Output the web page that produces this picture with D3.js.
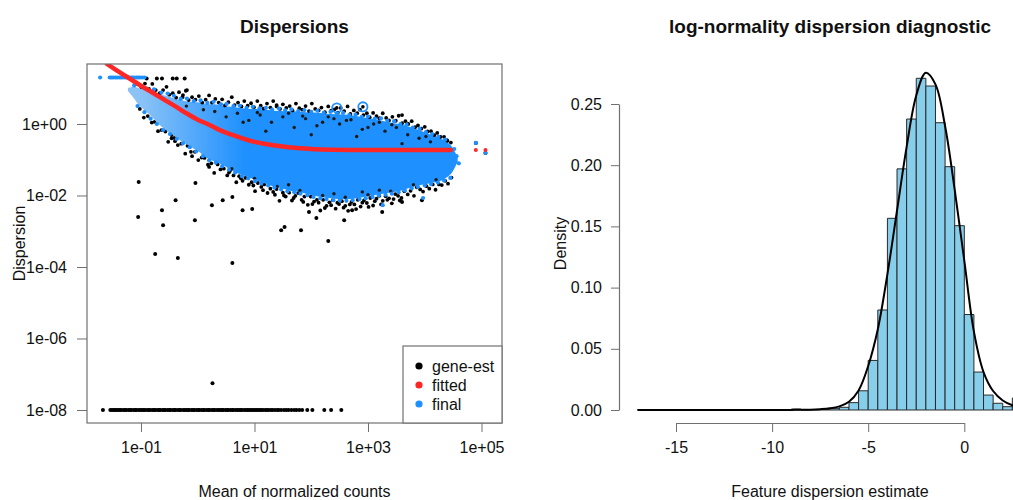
<!DOCTYPE html>
<html>
<head>
<meta charset="utf-8">
<script src="https://cdn.jsdelivr.net/npm/d3@7"></script>
<style>
  body { margin: 0; background: #fff; }
  svg { display: block; font-family: "Liberation Sans", Arial, sans-serif; }
</style>
</head>
<body>
<svg id="chart" width="1013" height="500"></svg>
<script>
// ---------------- Dispersion estimates (values are log10 mean, log10 dispersion) ----------------
const meanTicks = [1e-1, 1e1, 1e3, 1e5];
const meanTickLabels = ["1e-01", "1e+01", "1e+03", "1e+05"];
const dispTicks = [1e0, 1e-2, 1e-4, 1e-6, 1e-8];
const dispTickLabels = ["1e+00", "1e-02", "1e-04", "1e-06", "1e-08"];
const legendLabels = ["gene-est", "fitted", "final"];

// dense body of final (shrunken) estimates: log10 mean with upper / lower log10 dispersion
const coreLogMean  = [-1.23,-1.14,-1.02,-0.84,-0.72,-0.58,-0.44,-0.32,-0.14,0.04,0.16,0.3,0.44,0.6,0.74,0.91,1.04,1.18,1.32,1.47,1.61,1.79,1.91,2.05,2.19,2.35,2.49,2.67,2.79,2.93,3.07,3.23,3.37,3.54,3.67,3.81,3.95,4.11,4.25,4.33,4.46,4.53,4.58];
const coreLogUpper = [1.0,1.04,1.0,0.93,0.86,0.8,0.73,0.68,0.62,0.6,0.56,0.55,0.5,0.48,0.45,0.42,0.42,0.4,0.38,0.36,0.36,0.34,0.33,0.32,0.3,0.28,0.27,0.25,0.22,0.18,0.15,0.1,0.05,0.0,-0.05,-0.12,-0.2,-0.3,-0.38,-0.45,-0.6,-0.78,-0.95];
const coreLogLower = [0.92,0.75,0.5,0.25,0.05,-0.15,-0.3,-0.45,-0.62,-0.8,-0.95,-1.05,-1.15,-1.3,-1.4,-1.5,-1.58,-1.66,-1.74,-1.8,-1.86,-1.9,-1.95,-2.0,-2.05,-2.08,-2.1,-2.1,-2.08,-2.04,-2.0,-1.96,-1.92,-1.88,-1.82,-1.75,-1.7,-1.65,-1.6,-1.55,-1.4,-1.22,-1.05];

// gene-wise estimates along the top of the body
const geneEstUpper = [[-1.06,1.12],[-0.99,1.03],[-0.93,1.13],[-0.86,0.98],[-0.8,1.12],[-0.74,0.95],[-0.67,0.86],[-0.61,0.95],[-0.55,1.04],[-0.5,0.82],[-0.44,0.86],[-0.38,0.74],[-0.33,0.89],[-0.27,0.75],[-0.21,0.93],[-0.16,0.67],[-0.1,0.75],[-0.04,0.68],[0.02,0.78],[0.08,0.6],[0.14,0.68],[0.2,0.8],[0.25,0.6],[0.31,0.7],[0.37,0.6],[0.43,0.69],[0.48,0.52],[0.54,0.61],[0.6,0.75],[0.65,0.53],[0.71,0.6],[0.77,0.49],[0.82,0.64],[0.88,0.51],[0.94,0.58],[0.99,0.47],[1.05,0.64],[1.11,0.51],[1.16,0.43],[1.22,0.57],[1.28,0.46],[1.33,0.64],[1.39,0.49],[1.45,0.42],[1.5,0.55],[1.56,0.45],[1.62,0.5],[1.67,0.38],[1.73,0.57],[1.79,0.44],[1.84,0.4],[1.9,0.5],[1.96,0.36],[2.01,0.57],[2.07,0.42],[2.13,0.38],[2.18,0.46],[2.24,0.33],[2.3,0.49],[2.35,0.37],[2.41,0.41],[2.47,0.32],[2.52,0.45],[2.58,0.36],[2.64,0.49],[2.69,0.28],[2.75,0.38],[2.81,0.3],[2.86,0.4],[2.92,0.25],[2.98,0.3],[3.03,0.19],[3.09,0.31],[3.15,0.22],[3.2,0.16],[3.26,0.3],[3.32,0.17],[3.37,0.1],[3.43,0.2],[3.49,0.09],[3.54,0.23],[3.6,0.02],[3.66,0.08],[3.71,0.0],[3.77,0.08],[3.83,-0.09],[3.88,-0.04],[3.94,-0.13],[4.0,-0.08],[4.05,-0.21],[4.11,-0.2],[4.17,-0.31],[4.22,-0.25],[4.28,-0.36],[4.34,-0.36],[4.4,-0.47],[4.46,-0.52],[-0.26,0.81],[-0.19,0.95],[1.39,0.53],[3.6,0.25],[4.39,-0.45]];

// gene-wise estimates along the bottom of the body
const geneEstLower = [[-1.02,0.42],[-0.95,0.18],[-0.88,0.22],[-0.81,0.04],[-0.76,0.06],[-0.7,-0.2],[-0.64,-0.17],[-0.57,-0.21],[-0.52,-0.5],[-0.46,-0.4],[-0.41,-0.39],[-0.35,-0.59],[-0.29,-0.55],[-0.22,-0.83],[-0.18,-0.61],[-0.12,-0.78],[-0.05,-0.78],[0.01,-1.01],[0.07,-0.94],[0.12,-0.95],[0.18,-1.14],[0.24,-1.1],[0.29,-1.37],[0.35,-1.13],[0.4,-1.27],[0.46,-1.25],[0.52,-1.44],[0.57,-1.31],[0.63,-1.44],[0.68,-1.63],[0.73,-1.46],[0.79,-1.59],[0.84,-1.51],[0.9,-1.7],[0.95,-1.63],[1.01,-1.88],[1.06,-1.65],[1.12,-1.76],[1.17,-1.69],[1.23,-1.93],[1.28,-1.81],[1.33,-1.9],[1.39,-1.82],[1.44,-2.15],[1.5,-1.92],[1.55,-2.03],[1.61,-1.92],[1.66,-2.14],[1.72,-2.01],[1.77,-1.93],[1.83,-2.12],[1.88,-2.03],[1.94,-2.26],[1.99,-2.03],[2.05,-2.17],[2.1,-2.12],[2.16,-2.42],[2.21,-2.12],[2.27,-2.29],[2.32,-2.19],[2.38,-2.13],[2.43,-2.37],[2.49,-2.24],[2.54,-2.16],[2.6,-2.29],[2.65,-2.43],[2.71,-2.18],[2.76,-2.25],[2.82,-2.12],[2.87,-2.31],[2.93,-2.14],[2.98,-2.21],[3.04,-2.07],[3.09,-2.28],[3.15,-2.09],[3.2,-2.01],[3.26,-2.15],[3.31,-2.02],[3.37,-2.08],[3.42,-2.22],[3.48,-1.96],[3.53,-2.01],[3.59,-2.07],[3.64,-1.88],[3.7,-1.97],[3.75,-1.87],[3.81,-2.01],[3.86,-1.77],[3.92,-1.83],[3.97,-1.89],[4.03,-1.74],[4.08,-1.81],[4.14,-1.69],[4.19,-1.84],[4.25,-1.69],[4.3,-1.71],[4.36,-1.59],[4.41,-1.67],[4.47,-1.5],[1.36,-1.98],[1.52,-2.0],[1.69,-2.07],[1.86,-2.18],[2.02,-2.24],[2.13,-2.2],[2.24,-2.35],[2.35,-2.27],[2.46,-2.2],[2.57,-2.34],[2.68,-2.25],[2.79,-2.38],[2.9,-2.2],[3.01,-2.32],[3.12,-2.16],[3.23,-2.25],[3.34,-2.12],[3.45,-2.1],[3.56,-2.14],[0.55,-1.36],[0.76,-1.52],[0.98,-1.72],[1.15,-1.85],[-0.1,-0.9],[0.2,-1.2],[-0.4,-0.48]];

// isolated low gene-wise estimates
const geneEstStray = [[-1.04,-1.62],[-1.05,-2.6],[-0.63,-2.41],[-0.61,-2.83],[-0.39,-2.13],[-0.04,-1.65],[-0.05,-2.69],[0.25,-2.27],[0.44,-2.13],[0.61,-2.04],[0.79,-2.41],[0.96,-2.38],[1.47,-2.97],[1.53,-2.88],[1.82,-2.97],[2.09,-2.63],[2.58,-2.69],[1.96,-2.46],[2.72,-2.41],[3.25,-2.46],[3.6,-2.18],[3.95,-2.13],[-0.75,-3.64],[-0.35,-3.75],[0.61,-3.89],[2.3,-3.27],[0.26,-7.25],[-0.46,-0.31],[4.9,-0.53],[5.07,-0.81]];

// gene-wise estimates seen through the body
const geneEstInner = [[0.5,0.2],[0.7,0.3],[0.9,0.1],[1.1,0.25],[1.3,0.05],[1.5,0.2],[1.7,-0.1],[1.9,0.15],[2.1,-0.05],[2.3,0.2],[2.5,0.0],[2.7,0.12],[2.9,-0.15],[3.1,0.0],[3.3,-0.2],[3.5,-0.1],[3.7,-0.3],[3.9,-0.4],[4.1,-0.5],[1.2,-0.2],[2.0,-0.3],[2.8,-0.35],[3.6,-0.55],[0.3,0.35],[-0.2,0.5],[-0.5,0.6],[0.1,0.4],[1.6,0.3],[2.4,0.15],[3.2,0.05],[0.6,-1.25],[1.0,-1.52],[1.4,-1.75],[1.8,-1.86],[2.2,-2.0],[2.6,-2.05],[3.0,-1.98],[3.4,-1.88],[3.8,-1.7],[4.2,-1.56],[2.4,-1.95],[3.2,-1.85],[1.6,-1.7],[2.9,-1.9],[1.05,0.32],[1.85,0.22],[2.62,0.1],[3.42,-0.02],[4.02,-0.35],[0.8,0.05],[2.2,0.05],[3.0,-0.1]];

// genes with all-zero counts sit on the lower dispersion bound
const zeroLogMean = [-1.67,-1.54,-1.51,-1.48,-1.46,-1.43,-1.4,-1.37,-1.35,-1.31,-1.28,-1.26,-1.22,-1.19,-1.17,-1.13,-1.1,-1.08,-1.04,-1.01,-0.98,-0.95,-0.93,-0.89,-0.86,-0.84,-0.8,-0.77,-0.75,-0.71,-0.68,-0.66,-0.62,-0.59,-0.57,-0.53,-0.5,-0.48,-0.44,-0.41,-0.39,-0.35,-0.32,-0.3,-0.26,-0.23,-0.2,-0.17,-0.15,-0.11,-0.08,-0.06,-0.02,0.01,0.03,0.07,0.1,0.12,0.16,0.19,0.21,0.25,0.28,0.3,0.34,0.37,0.4,0.43,0.45,0.49,0.52,0.54,0.58,0.61,0.63,0.67,0.7,0.73,0.76,0.78,0.82,0.85,0.88,0.91,0.94,0.97,1.0,1.03,1.06,1.09,1.12,1.15,1.19,1.22,1.25,1.29,1.32,1.36,1.4,1.43,1.47,1.52,1.56,1.6,1.65,1.7,1.74,1.79,1.84,1.93,2.02,2.23,2.35,2.53];
const zeroLogDisp = -8;

// genes at the upper dispersion bound
const capLogDisp = 1.3;
const capFinalLogMean = [-1.72,-1.55,-1.52,-1.49,-1.45,-1.42,-1.38,-1.35,-1.32,-1.28,-1.25,-1.22,-1.18,-1.15,-1.12,-1.08,-1.05,-1.02,-0.98,-0.94];
const capGeneEstLogMean = [-0.9,-0.72,-0.63,-0.44,-0.37,-0.23];

// final estimates at the edges of the body
const finalFringe = [[-1.12,1.08],[-1.0,1.06],[-0.9,0.99],[-0.77,0.97],[-0.64,0.88],[-0.53,0.85],[-0.42,0.79],[-0.3,0.7],[-0.19,0.71],[-0.07,0.64],[0.05,0.66],[0.17,0.59],[0.28,0.62],[0.41,0.55],[0.51,0.56],[0.63,0.5],[0.74,0.51],[0.86,0.45],[0.97,0.48],[1.09,0.44],[1.2,0.45],[1.31,0.4],[1.43,0.43],[1.54,0.38],[1.65,0.41],[1.77,0.36],[1.88,0.39],[2.0,0.34],[2.11,0.37],[2.22,0.31],[2.34,0.34],[2.45,0.29],[2.56,0.31],[2.67,0.25],[2.78,0.26],[2.89,0.2],[3.0,0.21],[3.12,0.15],[3.23,0.16],[3.34,0.09],[3.46,0.08],[3.57,0.0],[3.68,-0.02],[3.79,-0.1],[3.91,-0.13],[4.02,-0.23],[4.13,-0.28],[4.24,-0.36],[4.36,-0.44],[-1.06,0.5],[-0.94,0.33],[-0.83,0.15],[-0.72,0.0],[-0.61,-0.17],[-0.49,-0.28],[-0.37,-0.42],[-0.26,-0.54],[-0.14,-0.65],[-0.03,-0.77],[0.09,-0.9],[0.2,-1.02],[0.32,-1.08],[0.43,-1.18],[0.55,-1.28],[0.66,-1.36],[0.78,-1.46],[0.89,-1.52],[1.01,-1.6],[1.12,-1.66],[1.24,-1.72],[1.35,-1.78],[1.47,-1.83],[1.58,-1.88],[1.7,-1.91],[1.81,-1.95],[1.93,-1.99],[2.04,-2.04],[2.16,-2.08],[2.27,-2.1],[2.39,-2.13],[2.5,-2.14],[2.62,-2.15],[2.73,-2.13],[2.85,-2.1],[2.96,-2.08],[3.08,-2.04],[3.19,-2.0],[3.31,-1.98],[3.42,-1.95],[3.54,-1.91],[3.65,-1.86],[3.77,-1.8],[3.88,-1.76],[4.0,-1.72],[4.11,-1.68],[4.23,-1.64],[4.34,-1.58],[4.45,-1.51],[4.32,-1.2],[3.97,-2.07],[3.26,-2.27],[4.9,-0.53],[5.07,-0.81],[4.56,-0.9],[4.6,-1.1],[4.52,-0.7]];

// fitted trend
const fittedLogMean = [-1.6,-1.4,-1.2,-1.0,-0.8,-0.6,-0.4,-0.2,0.0,0.2,0.4,0.6,0.8,1.0,1.2,1.4,1.6,1.8,2.0,2.4,3.0,4.0,4.46];
const fittedLogDisp = [1.68,1.47,1.27,1.07,0.88,0.69,0.5,0.3,0.12,-0.02,-0.18,-0.3,-0.41,-0.5,-0.56,-0.61,-0.65,-0.68,-0.7,-0.72,-0.73,-0.73,-0.73];
const fittedIsolated = [[4.9,-0.73],[5.07,-0.73]];

// dispersion outliers (circled)
const outlierPoints = [[2.45,0.45],[2.91,0.48]];

// ---------------- Log-normality histogram ----------------
const histBreaks = [-17,-16.5,-16,-15.5,-15,-14.5,-14,-13.5,-13,-12.5,-12,-11.5,-11,-10.5,-10,-9.5,-9,-8.5,-8,-7.5,-7,-6.5,-6,-5.5,-5,-4.5,-4,-3.5,-3,-2.5,-2,-1.5,-1,-0.5,0,0.5,1,1.5,2,2.5,3];
const histDensity = [0.0003,0,0,0,0,0,0,0,0,0,0,0,0,0,0,0,0.0008,0,0.0003,0.0005,0.0011,0.0022,0.006,0.0157,0.0405,0.0817,0.1566,0.197,0.2377,0.271,0.2647,0.2347,0.1988,0.1506,0.078,0.031,0.0122,0.0055,0.0027,0.0098];
const curveX = [-17,-12,-9,-8,-7.5,-7,-6.5,-6,-5.5,-5,-4.5,-4,-3.5,-3,-2.5,-2,-1.5,-1,-0.5,0,0.5,1,1.5,2,2.5,3];
const curveDensity = [0,0,0.0001,0.0003,0.0007,0.0014,0.003,0.0068,0.016,0.036,0.066,0.111,0.163,0.215,0.257,0.2755,0.266,0.232,0.18,0.122,0.064,0.031,0.0155,0.0078,0.0039,0.002];
const histXTicks = [-15, -10, -5, 0];
const histYTicks = [0, 0.05, 0.10, 0.15, 0.20, 0.25];

// ---------------- drawing ----------------
const svg = d3.select("#chart");
const AXIS = "#707070", TEXT = "#111";
const BLACK = "#000", RED = "#ff2626", BLUE = "#1e90ff";

const box = { left: 87, right: 502, top: 64, bottom: 423 };
const x = d3.scaleLog().domain([Math.pow(10, -1.951), Math.pow(10, 5.361)]).range([box.left, box.right]);
const y = d3.scaleLog().domain([Math.pow(10, -8.364), Math.pow(10, 1.678)]).range([box.bottom, box.top]);
const px = lm => x(Math.pow(10, lm));
const py = ld => y(Math.pow(10, ld));

const defs = svg.append("defs");
defs.append("clipPath").attr("id", "plotClip").append("rect")
  .attr("x", box.left).attr("y", box.top)
  .attr("width", box.right - box.left).attr("height", box.bottom - box.top);
const grad = defs.append("linearGradient").attr("id", "coreFill")
  .attr("gradientUnits", "userSpaceOnUse").attr("x1", 140).attr("x2", 245).attr("y1", 0).attr("y2", 0);
grad.append("stop").attr("offset", 0).attr("stop-color", "#8cc3f6");
grad.append("stop").attr("offset", 1).attr("stop-color", BLUE);

const plot = svg.append("g").attr("clip-path", "url(#plotClip)");

function dots(pts, r, fill) {
  plot.append("g").selectAll("circle").data(pts).join("circle")
    .attr("cx", d => px(d[0])).attr("cy", d => py(d[1]))
    .attr("r", r).attr("fill", fill);
}

// gene-wise estimates (black) beneath the final ones
dots(geneEstLower, 1.9, BLACK);
dots(geneEstStray, 2, BLACK);
dots(zeroLogMean.map(m => [m, zeroLogDisp]), 2, BLACK);
dots(capGeneEstLogMean.map(m => [m, capLogDisp - 0.03]), 2, BLACK);

// final estimates (blue body + individual points)
const core = coreLogMean.map((m, i) => ({ m, hi: coreLogUpper[i], lo: coreLogLower[i] }));
plot.append("path").datum(core)
  .attr("fill", "url(#coreFill)")
  .attr("d", d3.area().x(d => px(d.m)).y0(d => py(d.lo)).y1(d => py(d.hi)).curve(d3.curveCatmullRom));
dots(geneEstUpper, 1.9, BLACK);
dots(geneEstInner, 1.7, "#1a1a1a");
dots(finalFringe, 2.1, BLUE);
dots(capFinalLogMean.map(m => [m, capLogDisp]), 2.1, BLUE);

// fitted trend (red)
plot.append("path")
  .datum(fittedLogMean.map((m, i) => [m, fittedLogDisp[i]]))
  .attr("fill", "none").attr("stroke", RED).attr("stroke-width", 4.5)
  .attr("stroke-linecap", "round")
  .attr("d", d3.line().x(d => px(d[0])).y(d => py(d[1])).curve(d3.curveMonotoneX));
dots(fittedIsolated, 2, RED);

// circled outliers
plot.append("g").selectAll("circle").data(outlierPoints).join("circle")
  .attr("cx", d => px(d[0])).attr("cy", d => py(d[1])).attr("r", 4.6)
  .attr("fill", "none").attr("stroke", BLUE).attr("stroke-width", 1.8);
dots(outlierPoints, 1.8, BLACK);

// axes of the dispersion panel
const xAxis = svg.append("g").attr("transform", `translate(0,${box.bottom})`)
  .call(d3.axisBottom(x).tickValues(meanTicks).tickFormat((d, i) => meanTickLabels[i])
    .tickSize(9).tickPadding(10).tickSizeOuter(0));
const yAxis = svg.append("g").attr("transform", `translate(${box.left},0)`)
  .call(d3.axisLeft(y).tickValues(dispTicks).tickFormat((d, i) => dispTickLabels[i])
    .tickSize(10).tickPadding(10).tickSizeOuter(0));
[xAxis, yAxis].forEach(a => {
  a.select(".domain").remove();
  a.selectAll("line").attr("stroke", AXIS);
  a.selectAll("text").attr("fill", TEXT).attr("font-size", 16)
    .attr("font-family", '"Liberation Sans", Arial, sans-serif');
});

svg.append("rect").attr("x", box.left).attr("y", box.top)
  .attr("width", box.right - box.left).attr("height", box.bottom - box.top)
  .attr("fill", "none").attr("stroke", AXIS).attr("stroke-width", 1.2);

// legend
const lg = svg.append("g");
lg.append("rect").attr("x", 403).attr("y", 346).attr("width", box.right - 403).attr("height", box.bottom - 346)
  .attr("fill", "#fff").attr("stroke", AXIS).attr("stroke-width", 1.2);
const legendColors = [BLACK, RED, BLUE];
legendLabels.forEach((lab, i) => {
  const cy = 366 + i * 19;
  lg.append("circle").attr("cx", 419).attr("cy", cy).attr("r", 3.6).attr("fill", legendColors[i]);
  lg.append("text").attr("x", 432).attr("y", cy).attr("dy", "0.35em")
    .attr("font-size", 16).attr("fill", TEXT).text(lab);
});

// titles / labels of the dispersion panel
svg.append("text").attr("x", (box.left + box.right) / 2).attr("y", 33)
  .attr("text-anchor", "middle").attr("font-size", 19).attr("font-weight", "bold").attr("fill", TEXT)
  .text("Dispersions");
svg.append("text").attr("x", (box.left + box.right) / 2).attr("y", 497)
  .attr("text-anchor", "middle").attr("font-size", 16).attr("fill", TEXT)
  .text("Mean of normalized counts");
svg.append("text").attr("transform", `translate(25,${(box.top + box.bottom) / 2}) rotate(-90)`)
  .attr("text-anchor", "middle").attr("font-size", 16).attr("fill", TEXT)
  .text("Dispersion");

// ---------------- histogram panel ----------------
const hx = d3.scaleLinear().domain([-15, 0]).range([676, 964.3]);
const hy = d3.scaleLinear().domain([0, 0.25]).range([410, 104]);
const hcx = 830;

const bins = histDensity.map((d, i) => ({ x0: histBreaks[i], x1: histBreaks[i + 1], d }));
svg.append("g").selectAll("path").data(bins).join("path")
  .attr("d", b => `M${hx(b.x0)},${hy(0)}V${hy(b.d)}H${hx(b.x1)}V${hy(0)}Z`)
  .attr("fill", "#87ceeb").attr("stroke", "#2a2a2a").attr("stroke-width", 1);

svg.append("path")
  .datum(curveX.map((v, i) => [v, curveDensity[i]]))
  .attr("fill", "none").attr("stroke", "#000").attr("stroke-width", 2)
  .attr("d", d3.line().x(d => hx(d[0])).y(d => hy(d[1])).curve(d3.curveCatmullRom.alpha(0.5)));

const hxAxis = svg.append("g").attr("transform", "translate(0,423)")
  .call(d3.axisBottom(hx).tickValues(histXTicks).tickFormat(d3.format("d"))
    .tickSize(9).tickPadding(10).tickSizeOuter(0));
const hyAxis = svg.append("g").attr("transform", "translate(619,0)")
  .call(d3.axisLeft(hy).tickValues(histYTicks).tickFormat(d3.format(".2f"))
    .tickSize(8).tickPadding(9).tickSizeOuter(0));
[hxAxis, hyAxis].forEach(a => {
  a.select(".domain").attr("stroke", AXIS).attr("stroke-width", 1.2);
  a.selectAll("line").attr("stroke", AXIS);
  a.selectAll("text").attr("fill", TEXT).attr("font-size", 16)
    .attr("font-family", '"Liberation Sans", Arial, sans-serif');
});
hxAxis.selectAll("text").text(d => d === 0 ? "0" : String(d));

svg.append("text").attr("x", hcx).attr("y", 33)
  .attr("text-anchor", "middle").attr("font-size", 19).attr("font-weight", "bold").attr("fill", TEXT)
  .text("log-normality dispersion diagnostic");
svg.append("text").attr("x", hcx).attr("y", 497)
  .attr("text-anchor", "middle").attr("font-size", 16).attr("fill", TEXT)
  .text("Feature dispersion estimate");
svg.append("text").attr("transform", `translate(566,${(box.top + box.bottom) / 2}) rotate(-90)`)
  .attr("text-anchor", "middle").attr("font-size", 16).attr("fill", TEXT)
  .text("Density");
</script>
</body>
</html>
